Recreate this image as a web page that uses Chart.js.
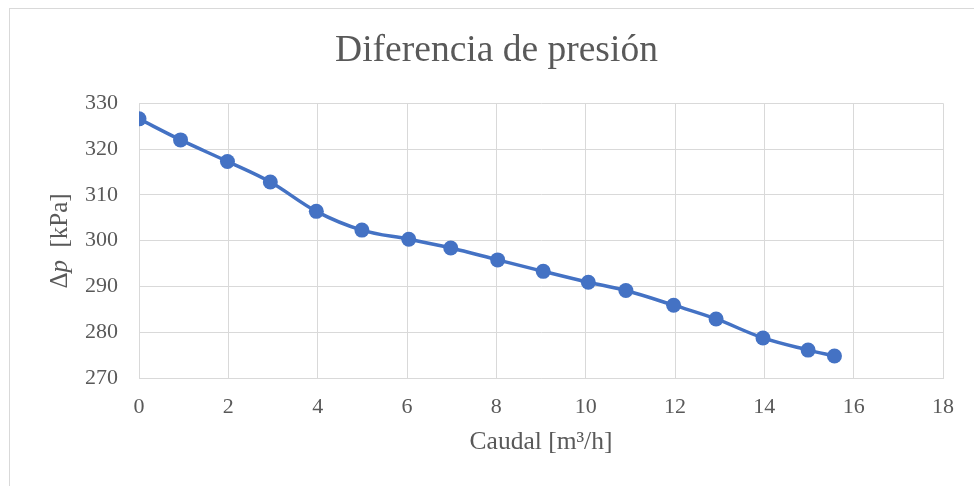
<!DOCTYPE html>
<html>
<head>
<meta charset="utf-8">
<script src="https://cdn.jsdelivr.net/npm/chart.js@4"></script>
<style>
  html, body { margin: 0; padding: 0; background: #fff; overflow: hidden; }
  #frame { position: absolute; left: 9px; top: 8px; width: 1000px; height: 520px; border: 1px solid #d9d9d9; box-sizing: border-box; }
  #wrap { position: absolute; left: 0; top: 0; width: 974px; height: 486px; }
</style>
</head>
<body>
<div id="frame"></div>
<div id="wrap"><canvas id="c" width="974" height="486"></canvas></div>
<script>
const chartTitle = 'Diferencia de presión';
const xTitle = 'Caudal [m³/h]';
const caudal = [0, 0.93, 1.98, 2.94, 3.97, 4.99, 6.04, 6.98, 8.03, 9.05, 10.06, 10.9, 11.97, 12.92, 13.97, 14.98, 15.57];
const deltaP = [326.6, 322.0, 317.3, 312.8, 306.4, 302.3, 300.3, 298.4, 295.8, 293.3, 290.9, 289.1, 285.9, 282.9, 278.75, 276.1, 274.8];
const xTicks = [0, 2, 4, 6, 8, 10, 12, 14, 16, 18];
const yTicks = [270, 280, 290, 300, 310, 320, 330];

const textColor = '#595959';
const gridColor = '#d9d9d9';
const fontFamily = '"Liberation Serif", "Times New Roman", serif';

const yTitlePlugin = {
  id: 'yTitle',
  afterDraw(chart) {
    const ctx = chart.ctx;
    const parts = [
      { t: 'Δ', f: 'normal 25px ' + fontFamily },
      { t: 'p', f: 'italic 25px ' + fontFamily },
      { t: '  [kPa]', f: 'normal 25px ' + fontFamily }
    ];
    ctx.save();
    let total = 0;
    parts.forEach(p => { ctx.font = p.f; p.w = ctx.measureText(p.t).width; total += p.w; });
    ctx.translate(60, 241);
    ctx.rotate(-Math.PI / 2);
    ctx.fillStyle = textColor;
    ctx.textBaseline = 'middle';
    ctx.textAlign = 'left';
    let x = -total / 2;
    parts.forEach(p => { ctx.font = p.f; ctx.fillText(p.t, x, 0); x += p.w; });
    ctx.restore();
  }
};

new Chart(document.getElementById('c'), {
  type: 'scatter',
  data: {
    datasets: [{
      data: caudal.map((x, i) => ({ x: x, y: deltaP[i] })),
      showLine: true,
      borderColor: '#4472C4',
      backgroundColor: '#4472C4',
      borderWidth: 3.5,
      pointRadius: 7.5,
      pointHoverRadius: 7.5,
      pointBorderWidth: 0,
      tension: 0.35
    }]
  },
  options: {
    responsive: false,
    animation: false,
    events: [],
    layout: { padding: { left: 50, right: 31, top: 0, bottom: 0 } },
    plugins: {
      legend: { display: false },
      tooltip: { enabled: false },
      title: {
        display: true,
        text: chartTitle,
        color: textColor,
        font: { family: fontFamily, size: 37.5, weight: 'normal', lineHeight: 1.2 },
        padding: { top: 29, bottom: 29.3 }
      }
    },
    scales: {
      x: {
        type: 'linear',
        min: 0, max: 18,
        afterFit: s => { s.height = 108; },
        afterBuildTicks: s => { s.ticks = xTicks.map(v => ({ value: v })); },
        grid: { color: gridColor, lineWidth: 1, drawTicks: false },
        border: { color: gridColor, width: 1 },
        ticks: { color: textColor, font: { family: fontFamily, size: 22 }, padding: 16, maxRotation: 0 },
        title: {
          display: true, text: xTitle, color: textColor,
          font: { family: fontFamily, size: 25.5, lineHeight: 1.2 },
          padding: { top: 0, bottom: 28 }
        }
      },
      y: {
        type: 'linear',
        min: 270, max: 330,
        afterFit: s => { s.width = 89; },
        afterBuildTicks: s => { s.ticks = yTicks.map(v => ({ value: v })); },
        grid: { color: gridColor, lineWidth: 1, drawTicks: false },
        border: { color: gridColor, width: 1 },
        ticks: { color: textColor, font: { family: fontFamily, size: 22 }, padding: 21 }
      }
    }
  },
  plugins: [yTitlePlugin]
});
</script>
</body>
</html>
